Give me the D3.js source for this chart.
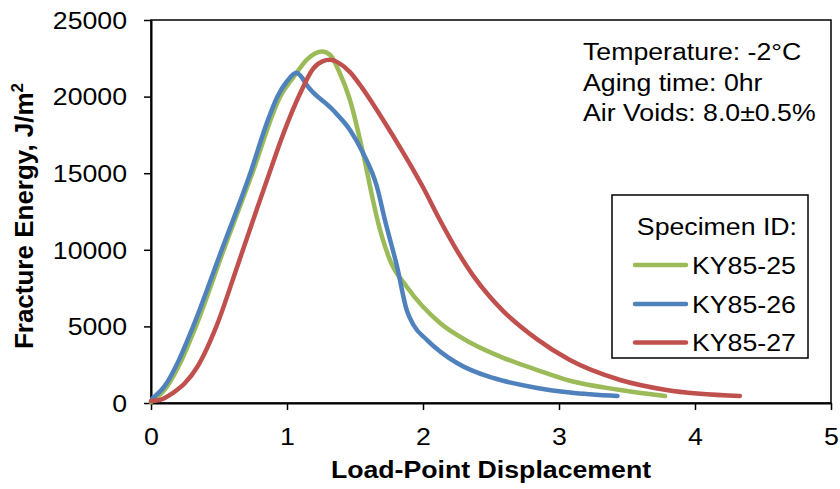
<!DOCTYPE html>
<html><head><meta charset="utf-8">
<script src="https://cdn.jsdelivr.net/npm/d3@7"></script>
<style>body{margin:0;background:#fff}svg{display:block}text{font-family:"Liberation Sans",Arial,sans-serif;fill:#000}</style>
</head><body><svg id="c" width="840" height="489"></svg>
<script>
const xTicks=[0,1,2,3,4,5];
const yTicks=[0,5000,10000,15000,20000,25000];
const seriesNames=["KY85-25","KY85-26","KY85-27"];
const seriesColors=["#9BBB59","#4F81BD","#C0504D"];
const ky25=[[0,50],[0.12,1100],[0.22,2700],[0.33,5000],[0.535,10000],[0.745,15000],[0.95,20000],[1.05,21300],[1.15,22450],[1.257,22950],[1.32,22700],[1.38,21700],[1.463,19780],[1.559,16320],[1.632,13250],[1.66,12140],[1.757,9330],[1.882,7570],[2.125,5220],[2.346,3950],[2.59,2950],[2.84,2150],[3.08,1450],[3.45,850],[3.78,450]];
const ky26=[[0.01,300],[0.1,1100],[0.2,2700],[0.31,5000],[0.52,10000],[0.73,15000],[0.853,18300],[0.93,20000],[1.0,21000],[1.07,21550],[1.1,21350],[1.15,20700],[1.338,19120],[1.463,17820],[1.559,16320],[1.662,14100],[1.72,11940],[1.81,8880],[1.88,6070],[1.93,5090],[2.03,4110],[2.25,2610],[2.49,1700],[2.59,1450],[2.84,980],[3.08,680],[3.43,450]];
const ky27=[[0,130],[0.066,200],[0.16,650],[0.25,1300],[0.34,2350],[0.485,5100],[0.63,8800],[0.78,12700],[0.87,15000],[0.97,17500],[1.096,20200],[1.19,21800],[1.26,22300],[1.316,22400],[1.38,22200],[1.463,21600],[1.55,20600],[1.632,19520],[1.73,18150],[1.831,16690],[1.92,15350],[2.0,14080],[2.125,11930],[2.25,9950],[2.37,8300],[2.49,6950],[2.59,6000],[2.84,4150],[3.08,2800],[3.45,1500],[3.79,850],[4.33,460]];
const seriesData=[ky25,ky26,ky27];
const infoLines=["Temperature: -2\u00B0C","Aging time: 0hr","Air Voids: 8.0\u00B10.5%"];

const svg=d3.select("#c");
const L=151,R=831,T=20,B=403;
const SX=1.16;
const x=d3.scaleLinear().domain([0,5]).range([L,R]);
const y=d3.scaleLinear().domain([0,25000]).range([B,T]);
function stretch(sel,f){sel.each(function(){const w=this.getComputedTextLength();d3.select(this).attr("textLength",w*f).attr("lengthAdjust","spacingAndGlyphs");});}

svg.append("rect").attr("x",L).attr("y",T).attr("width",R-L).attr("height",B-T)
  .attr("fill","none").attr("stroke","#000").attr("stroke-width",1.5);

const xa=svg.append("g").attr("transform",`translate(0,${B})`)
  .call(d3.axisBottom(x).tickValues(xTicks).tickFormat(d3.format("d")).tickSize(7).tickSizeOuter(0));
const ya=svg.append("g").attr("transform",`translate(${L},0)`)
  .call(d3.axisLeft(y).tickValues(yTicks).tickFormat(d=>String(d)).tickSize(7).tickSizeOuter(0));
[xa,ya].forEach(a=>{
  a.select(".domain").attr("stroke","#000").attr("stroke-width",2);
  a.selectAll(".tick line").attr("stroke","#000").attr("stroke-width",1.5);
  a.selectAll(".tick text").attr("font-size",23).attr("font-family","'Liberation Sans',Arial,sans-serif").attr("fill","#000");
});
xa.selectAll(".tick text").attr("dy",null).attr("y",42);
ya.selectAll(".tick text").attr("x",-24).attr("dy","0.36em");
stretch(xa.selectAll(".tick text"),SX);
stretch(ya.selectAll(".tick text"),SX);

const line=d3.line().x(d=>x(d[0])).y(d=>y(d[1])).curve(d3.curveMonotoneX);
seriesData.forEach((s,i)=>{
  svg.append("path").datum(s).attr("d",line).attr("fill","none")
    .attr("stroke",seriesColors[i]).attr("stroke-width",4.5).attr("stroke-linecap","round").attr("stroke-linejoin","round");
});

const xt=svg.append("text").attr("x",(L+R)/2).attr("y",478).attr("text-anchor","middle")
  .attr("font-size",23).attr("font-weight","bold").text("Load-Point Displacement");
stretch(xt,SX);
const yt=svg.append("text").attr("transform","translate(33,216) rotate(-90)").attr("text-anchor","middle")
  .attr("font-size",26).attr("font-weight","bold");
yt.append("tspan").text("Fracture Energy, J/m");
yt.append("tspan").attr("font-size",17).attr("dy",-10).text("2");

infoLines.forEach((t,i)=>{
  const tt=svg.append("text").attr("x",583).attr("y",60+i*30.5).attr("font-size",23).text(t);
  stretch(tt,SX);
});

svg.append("rect").attr("x",612).attr("y",195).attr("width",196).attr("height",163)
  .attr("fill","#fff").attr("stroke","#000").attr("stroke-width",1.5);
const sp=svg.append("text").attr("x",797).attr("y",235).attr("text-anchor","end").attr("font-size",23).text("Specimen ID:");
stretch(sp,SX);
const legY=[265,304,342.5];
seriesNames.forEach((n,i)=>{
  const yy=legY[i];
  svg.append("line").attr("x1",635).attr("x2",686).attr("y1",yy).attr("y2",yy)
    .attr("stroke",seriesColors[i]).attr("stroke-width",4.5).attr("stroke-linecap","round");
  const lt=svg.append("text").attr("x",692).attr("y",yy+8.5).attr("font-size",23).text(n);
  stretch(lt,SX);
});
</script></body></html>
